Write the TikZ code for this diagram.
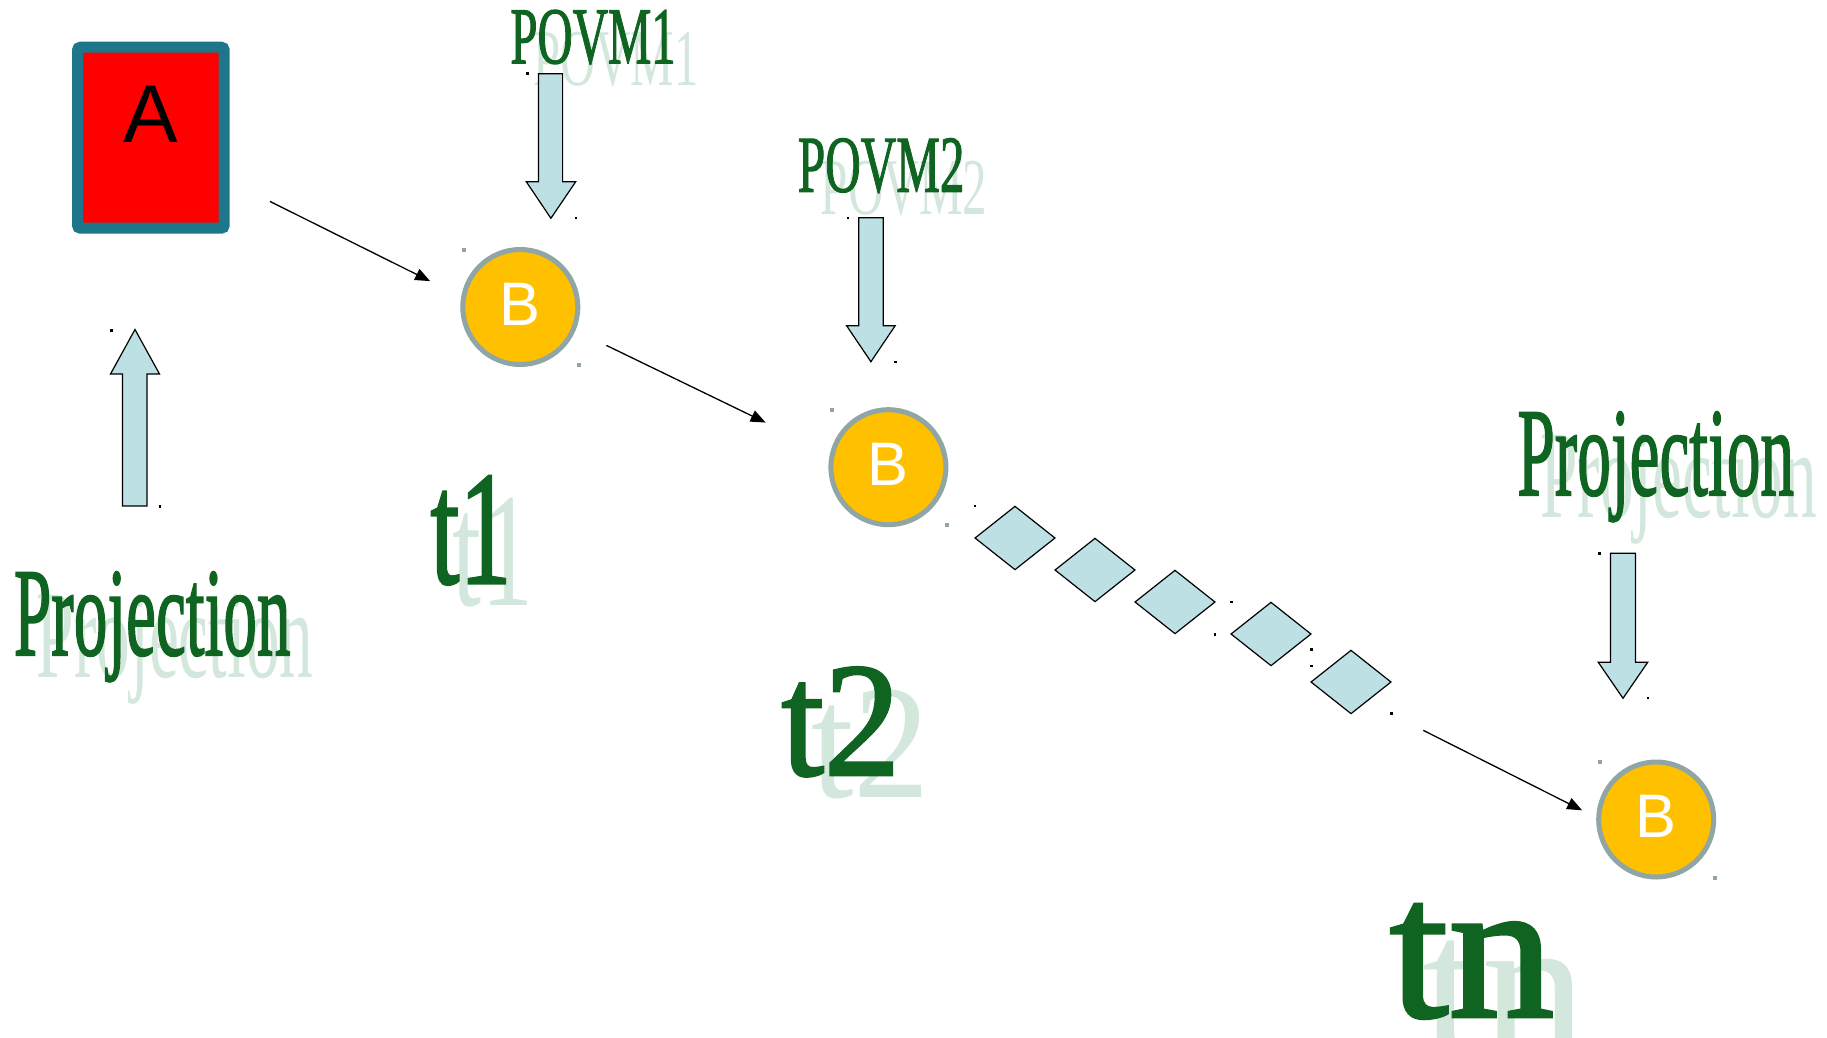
\documentclass[tikz,border=0pt]{standalone}
\usepackage{fontspec}
\setmainfont{Liberation Serif}
\setsansfont{Liberation Sans}
\newfontfamily\fwfont[FakeBold=1.6]{Liberation Serif}
\usetikzlibrary{arrows.meta,shapes.geometric}
\definecolor{boxteal}{RGB}{30,118,138}
\definecolor{bfill}{RGB}{255,192,0}
\definecolor{bring}{RGB}{143,165,166}
\definecolor{arrowblue}{RGB}{188,224,227}
\definecolor{fwgreen}{RGB}{14,100,32}
\definecolor{fwpale}{RGB}{211,231,221}

\begin{document}
\begin{tikzpicture}[x=0.5pt, y=-0.5pt,
  flow/.style={draw=black, line width=0.65pt, -{Triangle[length=7.5pt,width=6pt]}},
  state/.style={circle, draw=bring, fill=bfill, line width=2.5pt, minimum size=57.5pt,
    inner sep=0pt, text=white, font=\sffamily\fontsize{30.7}{30.7}\selectfont,
    text height=22pt, text depth=4pt},
  block/.style={draw=black, fill=arrowblue, line width=0.6pt, line join=miter},
  gate/.style={diamond, draw=black, fill=arrowblue, line width=0.6pt,
    minimum width=40.2pt, minimum height=31.9pt, inner sep=0pt},
  fwtext/.style={anchor=base west, inner sep=0pt, text=fwgreen},
  fwghost/.style={anchor=base west, inner sep=0pt, text=fwpale},
  speck/.style={fill=black},
  grip/.style={fill=bring}
]
  \clip (0,0) rectangle (1827,1038);

  % labels, pale copy first
  \node[fwghost, font=\fontsize{40.3}{40}\selectfont] (povm1g) at (533,85.3) {\scalebox{0.605}[1]{POVM1}};
  \node[fwtext, font=\fwfont\fontsize{40.3}{40}\selectfont] (povm1) at (510,63.3) {\scalebox{0.605}[1]{POVM1}};
  \node[fwghost, font=\fontsize{40.3}{40}\selectfont] (povm2g) at (820.5,214.7) {\scalebox{0.61}[1]{POVM2}};
  \node[fwtext, font=\fwfont\fontsize{40.3}{40}\selectfont] (povm2) at (797.5,191.7) {\scalebox{0.61}[1]{POVM2}};

  \node[fwghost, font=\fontsize{62.9}{63}\selectfont] (projlg) at (36.5,677) {\scalebox{0.535}[1]{Projection}};
  \node[fwtext, font=\fwfont\fontsize{62.9}{63}\selectfont] (projl) at (13.5,655) {\scalebox{0.535}[1]{Projection}};
  \node[fwghost, font=\fontsize{62.9}{63}\selectfont] (projrg) at (1540,517) {\scalebox{0.535}[1]{Projection}};
  \node[fwtext, font=\fwfont\fontsize{62.9}{63}\selectfont] (projr) at (1517,495) {\scalebox{0.535}[1]{Projection}};

  \node[fwghost, font=\fontsize{81.4}{81}\selectfont] (t1g) at (452.5,605.3) {\scalebox{0.64}[1]{t1}};
  \node[fwtext, font=\fwfont\fontsize{81.4}{81}\selectfont] (t1) at (430,583.3) {\scalebox{0.64}[1]{t1}};
  \node[fwghost, font=\fontsize{81.4}{81}\selectfont] (t2g) at (811,797) {\scalebox{0.94}[1]{t2}};
  \node[fwtext, font=\fwfont\fontsize{81.4}{81}\selectfont] (t2) at (781,775) {\scalebox{0.94}[1]{t2}};
  \node[fwghost, font=\fontsize{100}{100}\selectfont] (tng) at (1422,1053) {\scalebox{1.06}[1]{tn}};
  \node[fwtext, font=\fwfont\fontsize{100}{100}\selectfont] (tn) at (1389,1016.7) {\scalebox{1.06}[1]{tn}};

  % the system
  \node[draw=boxteal, fill=red, line width=5.5pt, rounded corners=1.5pt,
    minimum width=73.35pt, minimum height=90.5pt, inner sep=0pt,
    font=\sffamily\fontsize{41}{41}\selectfont, text height=29.5pt, text depth=24.7pt]
    (a) at (150.85,137.7) {A};

  \node[state] (b1) at (520.3,307) {B};
  \node[state] (b2) at (888.4,467.2) {B};
  \node[state] (b3) at (1656.2,819.5) {B};

  \node[gate] (d1) at (1015,538) {};
  \node[gate] (d2) at (1095,570) {};
  \node[gate] (d3) at (1175,602) {};
  \node[gate] (d4) at (1271,634) {};
  \node[gate] (d5) at (1351,682) {};

  \draw[flow, shorten <=22.5pt, shorten >=17.35pt] (a.-29) -- (b1.170);
  \draw[flow, shorten <=17.15pt, shorten >=35.7pt] (b1.-23) -- (b2.167);
  \draw[flow, shorten <=17.6pt, shorten >=7.9pt] (d5.east |- d5.south) -- (b3.178);

  % block arrows
  \draw[block] (538.5,73.7) -- (562.6,73.7) -- (562.6,181.7) -- (575.7,181.7)
    -- (550.9,218.3) -- (526.3,181.7) -- (538.5,181.7) -- cycle;
  \draw[block] (858.8,217.7) -- (883.3,217.7) -- (883.3,325.7) -- (895.2,325.7)
    -- (870.9,361.7) -- (846.6,325.7) -- (858.8,325.7) -- cycle;
  \draw[block] (1610.5,553.3) -- (1635.5,553.3) -- (1635.5,662.3) -- (1647.7,662.3)
    -- (1623,698.3) -- (1598.3,662.3) -- (1610.5,662.3) -- cycle;
  \draw[block] (122.5,506) -- (147,506) -- (147,374) -- (159.5,374)
    -- (135,329.5) -- (110.5,374) -- (122.5,374) -- cycle;

  % little corner marks
  \fill[speck] (526,72.5) rectangle ++(2.5,2.5);
  \fill[speck] (574.5,216.5) rectangle ++(2.5,2.5);
  \fill[speck] (846.5,216.5) rectangle ++(2.5,2.5);
  \fill[speck] (894,360.5) rectangle ++(2.5,2.5);
  \fill[speck] (1598,552) rectangle ++(2.5,2.5);
  \fill[speck] (1646.5,696.5) rectangle ++(2.5,2.5);
  \fill[speck] (110,329) rectangle ++(2.5,2.5);
  \fill[speck] (158.5,505) rectangle ++(2.5,2.5);
  \fill[speck] (973.5,504.5) rectangle ++(2.5,2.5);
  \fill[speck] (1230,600.5) rectangle ++(2.5,2.5);
  \fill[speck] (1213.5,633) rectangle ++(2.5,2.5);
  \fill[speck] (1310,648) rectangle ++(2.5,2.5);
  \fill[speck] (1310,664.5) rectangle ++(2.5,2.5);
  \fill[speck] (1390,712) rectangle ++(2.5,2.5);

  \fill[grip] (461.5,248) rectangle ++(4,4);
  \fill[grip] (576.5,362.5) rectangle ++(4,4);
  \fill[grip] (829.5,408) rectangle ++(4,4);
  \fill[grip] (944.5,522.5) rectangle ++(4,4);
  \fill[grip] (1597.5,759.5) rectangle ++(4,4);
  \fill[grip] (1712.5,875.5) rectangle ++(4,4);
\end{tikzpicture}
\end{document}
